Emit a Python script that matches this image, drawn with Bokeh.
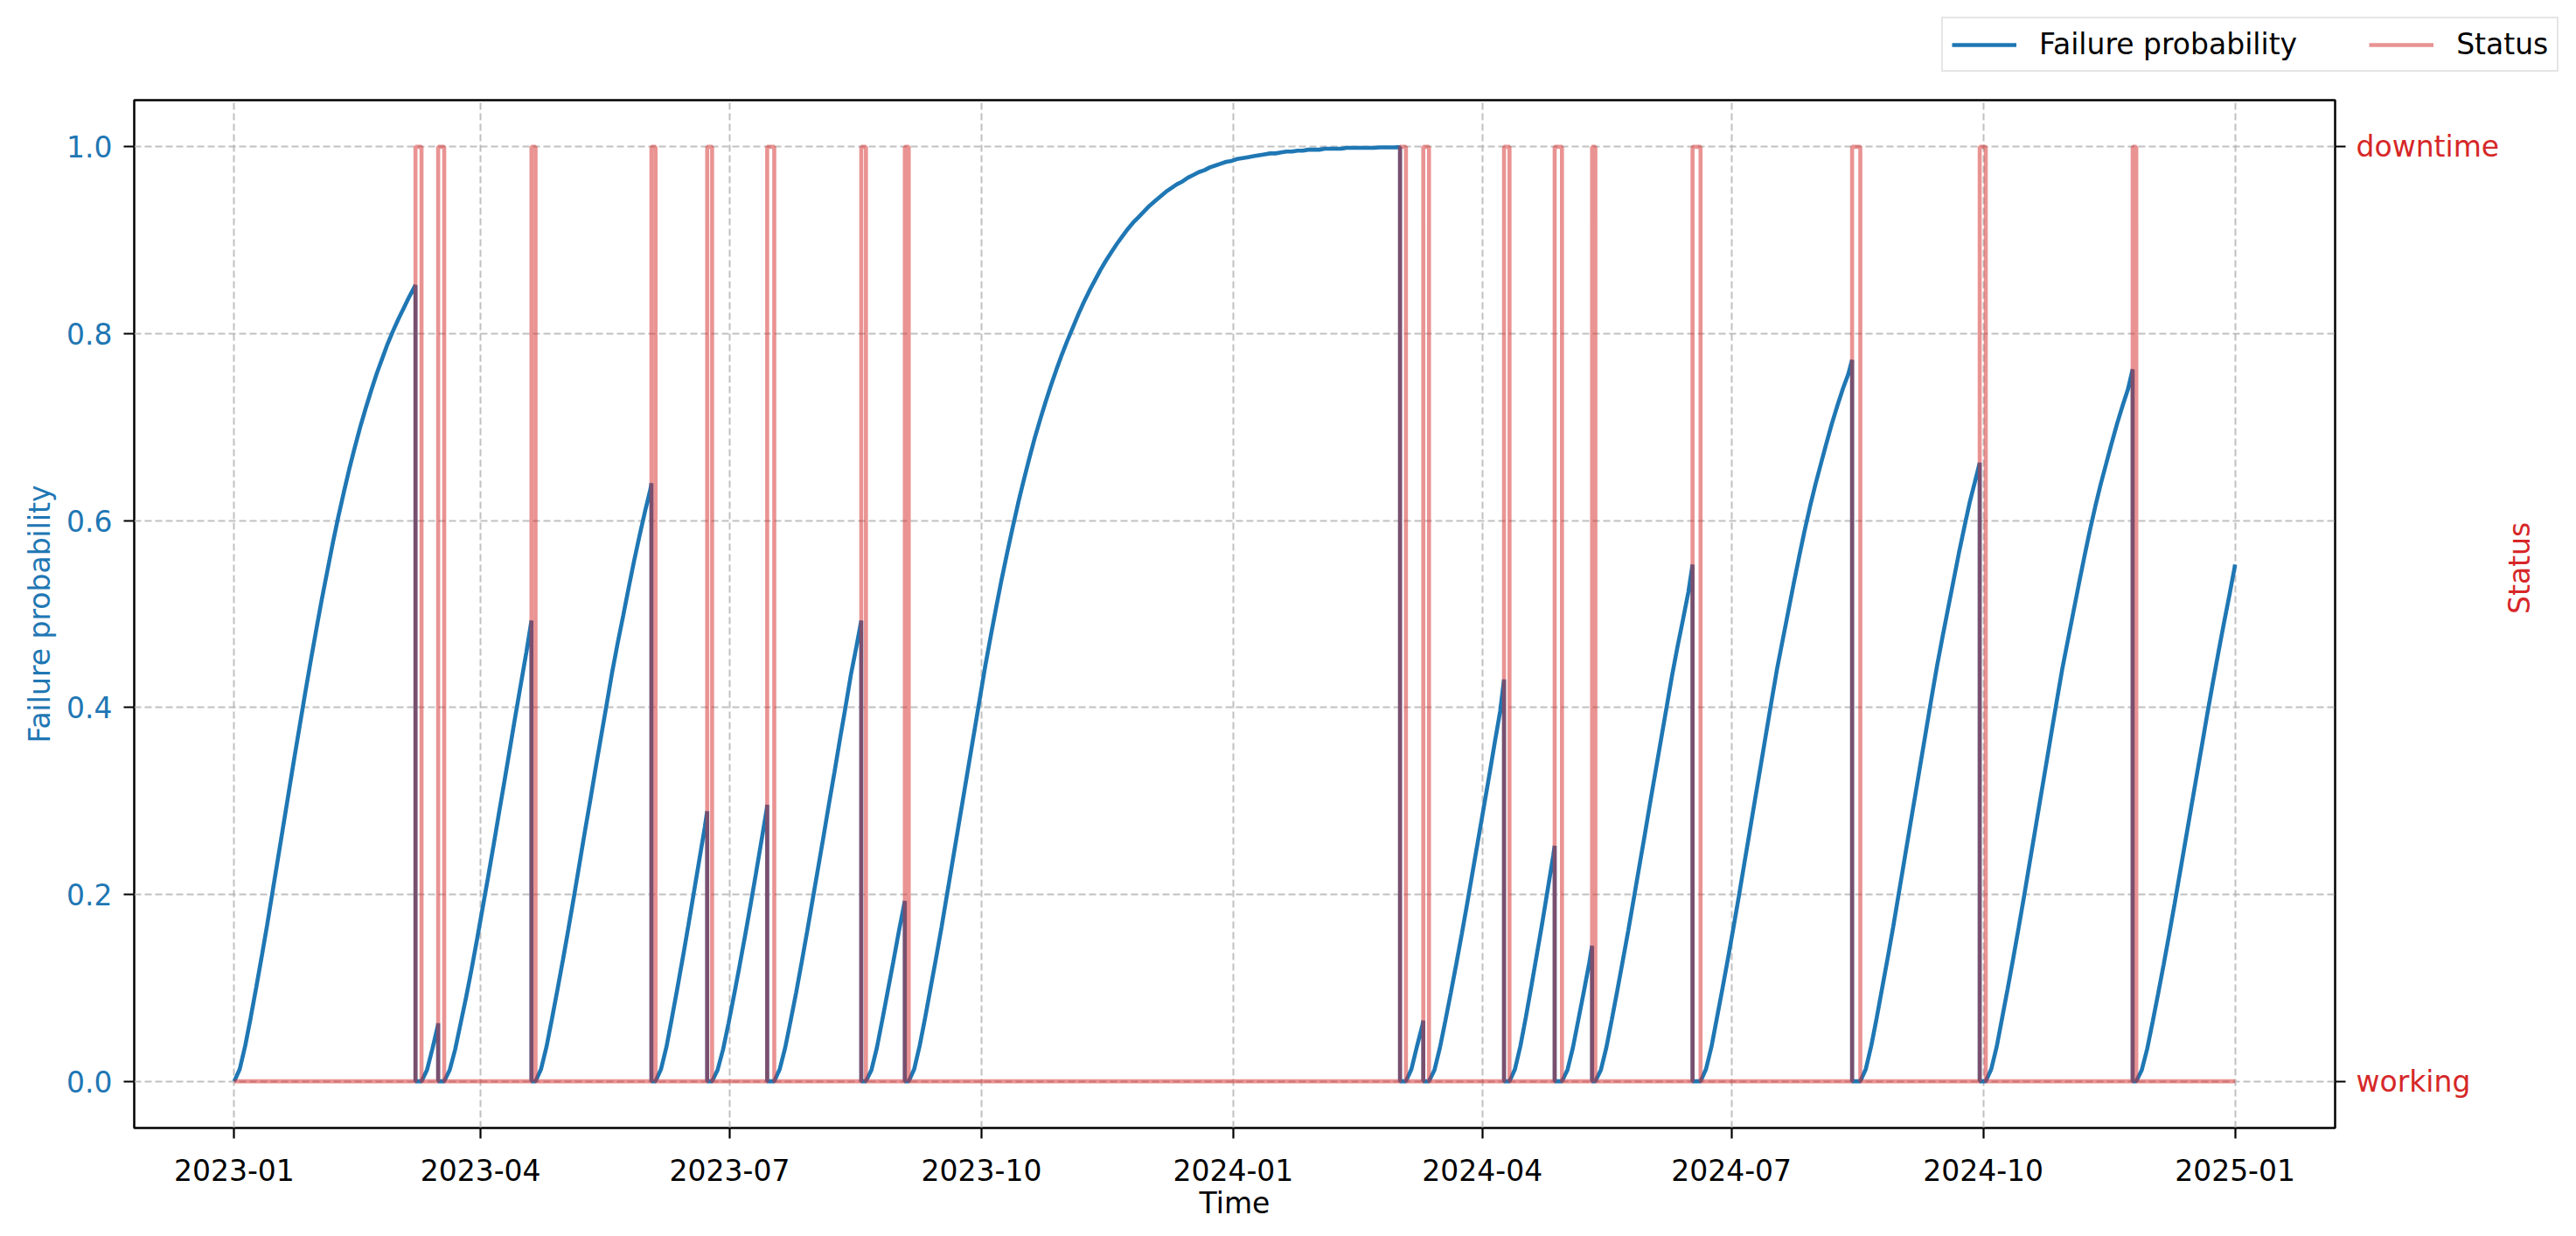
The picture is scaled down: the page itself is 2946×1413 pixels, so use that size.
import math
import pandas as pd
from bokeh.plotting import figure
from bokeh.models import (Range1d, LinearAxis, FixedTicker, DatetimeTickFormatter,
                          PrintfTickFormatter, Legend, LegendItem)
from bokeh.embed import file_html
from bokeh.resources import INLINE

# ---------------- data ----------------
period_start = "2023-01-01 00:00"
period_end = "2025-01-01 00:00"

downtime_start = [
    "2023-03-08 05:00", "2023-03-16 12:00", "2023-04-19 14:00", "2023-06-02 10:00",
    "2023-06-22 19:00", "2023-07-14 17:00", "2023-08-18 02:00", "2023-09-03 00:00",
    "2024-03-01 22:00", "2024-03-10 10:00", "2024-04-08 22:00", "2024-04-27 10:00",
    "2024-05-11 02:00", "2024-06-16 19:00", "2024-08-14 02:00", "2024-09-29 17:00",
    "2024-11-24 14:00",
]
downtime_end = [
    "2023-03-10 10:00", "2023-03-18 17:00", "2023-04-21 02:00", "2023-06-03 22:00",
    "2023-06-24 14:00", "2023-07-17 07:00", "2023-08-19 19:00", "2023-09-04 10:00",
    "2024-03-04 02:00", "2024-03-12 12:00", "2024-04-10 22:00", "2024-04-30 02:00",
    "2024-05-12 07:00", "2024-06-19 17:00", "2024-08-17 02:00", "2024-10-01 22:00",
    "2024-11-25 22:00",
]

# failure probability after each reset, read every 2 days;
# the last value of each list is the value just before the next downtime (or at the period end)
sample_step_days = 2
prob_seg00 = [0, .013, .038, .068, .100, .133, .167, .203, .239, .275, .311, .347, .382, .417, .451,
              .484, .516, .546, .576, .604, .630, .655, .678, .700, .720, .739, .757, .773, .789, .803,
              .816, .828, .840, .851, .852]
prob_seg01 = [0, .012, .035, .060, .062]
prob_seg02 = [0, .012, .034, .062, .090, .120, .152, .185, .218, .252, .287, .321, .356, .391, .425,
              .459, .493]
prob_seg03 = [0, .013, .037, .067, .098, .130, .163, .197, .232, .267, .301, .336, .370, .404, .438,
              .469, .498, .528, .557, .584, .610, .634, .640]
prob_seg04 = [0, .013, .037, .068, .100, .133, .167, .202, .237, .272, .289]
prob_seg05 = [0, .012, .034, .062, .092, .123, .155, .188, .222, .257, .292, .296]
prob_seg06 = [0, .013, .036, .065, .095, .127, .160, .194, .228, .262, .297, .331, .366, .400, .435,
              .465, .493]
prob_seg07 = [0, .012, .036, .066, .097, .128, .160, .190, .193]
prob_seg08 = [0, .013, .038, .068, .100, .132, .165, .200, .235, .270, .305, .340, .375, .410, .445,
              .477, .508, .538, .566, .593, .619, .643, .666, .688, .708, .727, .745, .762, .778, .793,
              .807, .821, .834, .846, .857, .868, .878, .887, .896, .904, .912, .919, .925, .931, .937,
              .942, .947, .952, .956, .960, .963, .967, .970, .973, .975, .978, .980, .982, .984, .985,
              .987, .988, .989, .990, .991, .992, .993, .993, .994, .995, .995, .996, .996, .997, .997,
              .997, .998, .998, .998, .998, .999, .999, .999, .999, .999, .999, .9995, .9995, .9995,
              .9996, .9997]
prob_seg09 = [0, .013, .037, .060, .065]
prob_seg10 = [0, .012, .036, .065, .095, .126, .158, .191, .225, .259, .293, .327, .362, .396, .430]
prob_seg11 = [0, .013, .038, .069, .102, .136, .170, .206, .242, .252]
prob_seg12 = [0, .012, .036, .066, .096, .127, .145]
prob_seg13 = [0, .012, .036, .066, .097, .129, .161, .195, .229, .263, .298, .332, .366, .400, .434,
              .465, .494, .524, .553]
prob_seg14 = [0, .013, .037, .068, .099, .131, .164, .198, .233, .268, .303, .338, .373, .408, .442,
              .472, .502, .532, .561, .589, .615, .639, .661, .683, .704, .723, .741, .757, .772]
prob_seg15 = [0, .013, .038, .068, .100, .132, .165, .200, .235, .270, .305, .340, .375, .410, .444,
              .475, .505, .535, .565, .593, .620, .643, .662]
prob_seg16 = [0, .013, .037, .068, .099, .131, .164, .198, .233, .268, .303, .338, .373, .408, .442,
              .472, .502, .532, .561, .589, .615, .639, .661, .683, .704, .723, .741, .762]
prob_seg17 = [0, .012, .035, .064, .094, .125, .157, .190, .224, .258, .292, .326, .360, .394, .427,
              .459, .490, .520, .551, .553]
prob_segments = [prob_seg00, prob_seg01, prob_seg02, prob_seg03, prob_seg04, prob_seg05,
                 prob_seg06, prob_seg07, prob_seg08, prob_seg09, prob_seg10, prob_seg11,
                 prob_seg12, prob_seg13, prob_seg14, prob_seg15, prob_seg16, prob_seg17]

x_tick_dates = ["2023-01-01", "2023-04-01", "2023-07-01", "2023-10-01", "2024-01-01",
                "2024-04-01", "2024-07-01", "2024-10-01", "2025-01-01"]
prob_ticks = [0.0, 0.2, 0.4, 0.6, 0.8, 1.0]
status_ticks = [0, 1]
status_tick_labels = ["working", "downtime"]

# ---------------- build line vertices ----------------
t0 = pd.Timestamp(period_start)
t1 = pd.Timestamp(period_end)
ds = [pd.Timestamp(s) for s in downtime_start]
de = [pd.Timestamp(s) for s in downtime_end]
resets = [t0] + de
seg_ends = ds + [t1]

px, py = [], []
for k, vals in enumerate(prob_segments):
    r = resets[k]
    for i, v in enumerate(vals[:-1]):
        px.append(min(r + pd.Timedelta(days=sample_step_days * i), seg_ends[k]))
        py.append(v)
    px.append(seg_ends[k])
    py.append(vals[-1])
    if k < len(ds):
        px.append(ds[k])
        py.append(0.0)

sx, sy = [t0], [0]
for a, b in zip(ds, de):
    sx += [a, a, b, b]
    sy += [0, 1, 1, 0]
sx.append(t1)
sy.append(0)

# ---------------- styling constants ----------------
BLUE = "#1f77b4"
RED = "#d62728"
FONT = "DejaVu Sans"
FS = "33px"
LW = 4.6

W, H = 2930, 1397
LH = 100                                # height of the legend strip on top
FL, FT, FR, FB = 153, 114, 2670, 1289   # frame edges in page pixels

# ---------------- legend strip (separate root, not frame-aligned) ----------------
lf = figure(width=W, height=LH, x_axis_type="datetime",
            x_range=Range1d(0, 1), y_range=Range1d(5, 6),
            output_backend="svg", toolbar_location=None,
            x_axis_location=None, y_axis_location=None,
            min_border_left=0, min_border_right=0, min_border_top=0, min_border_bottom=0)
lf.grid.visible = False
lf.outline_line_color = None
lf.background_fill_color = "white"
lf.border_fill_color = "white"
# same series as the chart, lying outside this strip's ranges: only their legend glyphs show
lb = lf.line(px, py, line_color=BLUE, line_width=LW)
lr = lf.line(sx, sy, line_color=RED, line_alpha=0.5, line_width=LW)
legend = Legend(items=[LegendItem(label="Failure probability", renderers=[lb]),
                       LegendItem(label="Status", renderers=[lr])],
                orientation="horizontal", location=(2220, 18))
legend.label_text_font = FONT
legend.label_text_font_size = FS
legend.label_text_color = "black"
legend.glyph_width = 74
legend.glyph_height = 38
legend.label_height = 38
legend.label_standoff = 26
legend.spacing = 82
legend.padding = 10
legend.margin = 0
legend.border_line_color = "#cccccc"
legend.border_line_width = 2
legend.background_fill_color = "white"
legend.background_fill_alpha = 0.8
lf.add_layout(legend)

# ---------------- main figure ----------------
PH = H - LH
pad = (t1 - t0) * 0.05
p = figure(width=W, height=PH, x_axis_type="datetime",
           x_range=Range1d(t0 - pad, t1 + pad), y_range=Range1d(-0.05, 1.05),
           output_backend="svg", toolbar_location=None,
           min_border_left=FL, min_border_right=W - FR, min_border_top=FT - LH,
           min_border_bottom=H - FB)
p.background_fill_color = "white"
p.border_fill_color = "white"
p.outline_line_color = "black"
p.outline_line_width = 2.5
p.extra_y_ranges = {"status": Range1d(-0.05, 1.05)}

blue = p.line(px, py, line_color=BLUE, line_width=LW)
red = p.line(sx, sy, line_color=RED, line_alpha=0.5, line_width=LW, y_range_name="status")

for g in (p.xgrid, p.ygrid):
    g.grid_line_color = "#b0b0b0"
    g.grid_line_alpha = 0.8
    g.grid_line_width = 2
    g.grid_line_dash = "8 4"

xa = p.xaxis[0]
xa.ticker = FixedTicker(ticks=[pd.Timestamp(d).value / 1e6 for d in x_tick_dates])
fmt = "%Y-%m"
xa.formatter = DatetimeTickFormatter(years=fmt, months=fmt, days=fmt, hours=fmt, minutes=fmt,
                                     hourmin=fmt, seconds=fmt, minsec=fmt, milliseconds=fmt,
                                     microseconds=fmt)
xa.axis_label = "Time"
xa.major_label_text_color = "black"
xa.axis_label_text_color = "black"

ya = p.yaxis[0]
ya.ticker = FixedTicker(ticks=prob_ticks)
ya.formatter = PrintfTickFormatter(format="%.1f")
ya.axis_label = "Failure probability"
ya.major_label_text_color = BLUE
ya.axis_label_text_color = BLUE

ra = LinearAxis(y_range_name="status", ticker=FixedTicker(ticks=status_ticks),
                major_label_overrides={t: l for t, l in zip(status_ticks, status_tick_labels)},
                axis_label="Status")
ra.major_label_text_color = RED
ra.axis_label_text_color = RED
ra.axis_label_orientation = math.pi / 2
p.add_layout(ra, "right")

for ax in (xa, ya, ra):
    ax.axis_line_color = None
    ax.major_tick_in = 0
    ax.major_tick_out = 12
    ax.major_tick_line_width = 2.2
    ax.major_tick_line_color = "black"
    ax.minor_tick_line_color = None
    ax.major_label_text_font = FONT
    ax.major_label_text_font_size = FS
    ax.axis_label_text_font = FONT
    ax.axis_label_text_font_size = FS
    ax.axis_label_text_font_style = "normal"

xa.major_label_standoff = 23
xa.axis_label_standoff = 3
ya.major_label_standoff = 13
ya.axis_label_standoff = 8
ra.major_label_standoff = 12
ra.axis_label_standoff = 20

open("out.html", "w").write(file_html([lf, p], INLINE))
